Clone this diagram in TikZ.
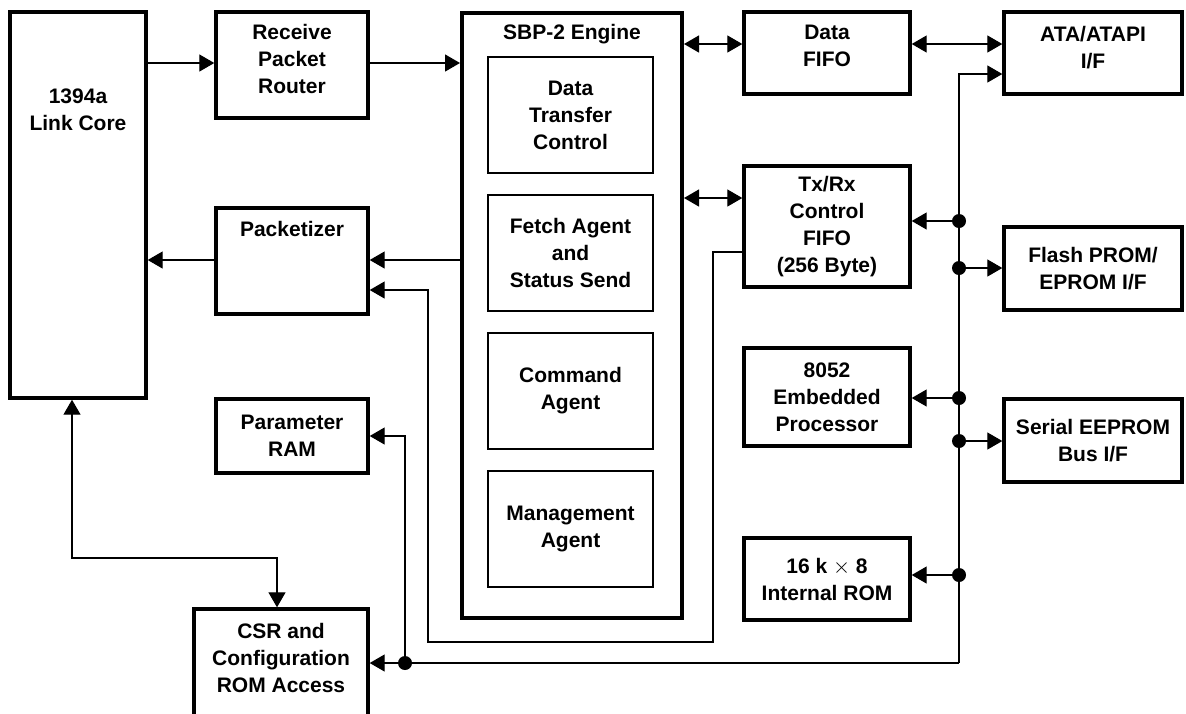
\documentclass[tikz,border=0pt]{standalone}
\usepackage{fontspec}
\setmainfont{Liberation Sans}
\usetikzlibrary{arrows.meta}
\tikzstyle{blk}=[draw, rectangle, line width=1.7pt, inner sep=0pt, align=center, font=\fontsize{10.5}{13.5}\selectfont\bfseries]
\tikzstyle{sub}=[blk, line width=1.3pt, minimum width=82.5pt, minimum height=58pt]
\tikzstyle{ttl}=[anchor=north, inner sep=0pt, align=center, font=\fontsize{10.5}{13.5}\selectfont\bfseries]
\tikzstyle{wire}=[line width=0.65pt]
\tikzstyle{arr}=[wire, -{Triangle[length=7.5pt,width=8.5pt]}]
\tikzstyle{dbl}=[wire, {Triangle[length=7.5pt,width=8.5pt]}-{Triangle[length=7.5pt,width=8.5pt]}]

\begin{document}
\begin{tikzpicture}[x=0.5pt, y=-0.5pt]
\useasboundingbox (0,0) rectangle (1186,713);
% left column
\node[blk, minimum width=68pt, minimum height=193pt, label={[ttl,yshift=-39pt]north:1394a\\Link Core}] (link) at (78,205) {};
\node[blk, minimum width=76pt, minimum height=53pt, label={[ttl,yshift=-7pt]north:Receive\\Packet\\Router}] (rpr) at (292,65) {};
\node[blk, minimum width=76pt, minimum height=53pt, label={[ttl,yshift=-7.5pt]north:Packetizer}] (pack) at (292,261) {};
\node[blk, minimum width=76pt, minimum height=37pt] (param) at (292,436) {Parameter\\RAM};
\node[blk, minimum width=87pt, minimum height=65pt, label={[ttl,yshift=-8pt]north:CSR and\\Configuration\\ROM Access}] (csr) at (281,674) {};
% engine
\node[blk, line width=2pt, minimum width=110pt, minimum height=302.5pt, label={[ttl,yshift=-6.5pt]north:SBP-2 Engine}] (sbp) at (572,315.5) {};
\node[sub] (dtc) at (570.5,115) {Data\\Transfer\\Control};
\node[sub] (fetch) at (570.5,253) {Fetch Agent\\and\\Status Send};
\node[sub] (cmd) at (570.5,391) {Command\\Agent};
\node[sub] (mgmt) at (570.5,529) {Management\\Agent};
% middle column
\node[blk, minimum width=83pt, minimum height=41pt, label={[ttl,yshift=-7pt]north:Data\\FIFO}] (dfifo) at (827,53) {};
\node[blk, minimum width=83pt, minimum height=60.5pt] (txrx) at (827,226.5) {Tx/Rx\\Control\\FIFO\\(256 Byte)};
\node[blk, minimum width=83pt, minimum height=49pt] (proc) at (827,397) {8052\\Embedded\\Processor};
\node[blk, minimum width=83pt, minimum height=41pt] (rom) at (827,579) {16 k $\times$ 8\\Internal ROM};
% right column
\node[blk, minimum width=89pt, minimum height=41pt, label={[ttl,yshift=-8pt]north:ATA/ATAPI\\I/F}] (ata) at (1093,53) {};
\node[blk, minimum width=89pt, minimum height=41.5pt] (flash) at (1093,268.5) {Flash PROM/\\EPROM I/F};
\node[blk, minimum width=89pt, minimum height=41.5pt] (eeprom) at (1093,440.5) {Serial EEPROM\\Bus I/F};

\coordinate (bus) at (959,663);
\coordinate (tap) at (405,663);

\foreach \f/\t/\y in {link.east/rpr.west/63, rpr.east/sbp.west/63, sbp.west/pack.east/260, pack.west/link.east/260}
  \draw[arr] (\f |- 0,\y) -- (\t |- 0,\y);
\foreach \f/\t/\y in {sbp.east/dfifo.west/44, dfifo.east/ata.west/44, sbp.east/txrx.west/198}
  \draw[dbl] (\f |- 0,\y) -- (\t |- 0,\y);
\draw[dbl] (link.south -| 72,0) |- (277,558) -- (csr.north -| 277,0);
\draw[arr] (txrx.west |- 0,252) -- (713,252) -- (713,642) -- (428,642) -- (428,290) -- (pack.east |- 0,290);
% bus
\draw[arr] (bus) -- (bus |- 0,74) -- (ata.west |- 0,74);
\draw[arr] (bus) -- (tap) -- (csr.east |- tap);
\draw[arr] (tap) |- (param.east);
\fill (tap) circle (3.5pt);
\foreach \t/\y in {txrx/221, proc/398, rom/575} {
  \fill (bus |- 0,\y) circle (3.5pt);
  \draw[arr] (bus |- 0,\y) -- (\t.east |- 0,\y);
}
\foreach \t/\y in {flash/268, eeprom/441} {
  \fill (bus |- 0,\y) circle (3.5pt);
  \draw[arr] (bus |- 0,\y) -- (\t.west |- 0,\y);
}
\end{tikzpicture}
\end{document}
